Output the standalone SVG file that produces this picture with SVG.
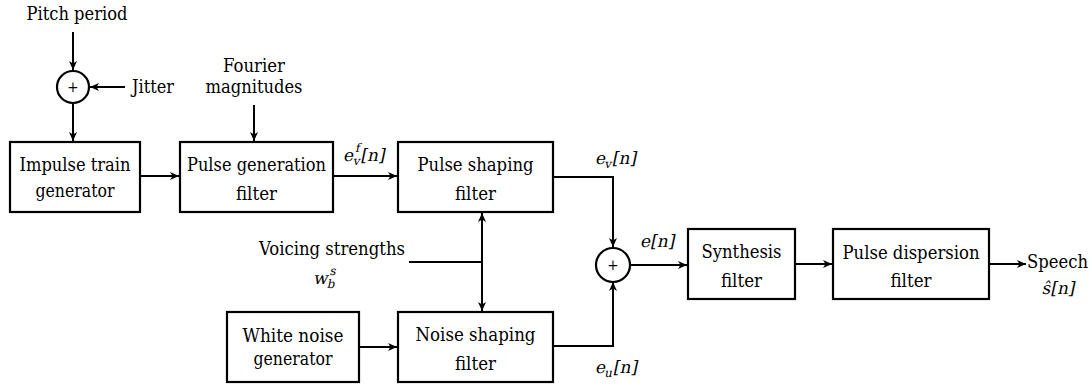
<svg xmlns="http://www.w3.org/2000/svg" width="1092" height="386" viewBox="0 0 1092 386">
<style>
text{font-family:"DejaVu Serif Condensed","DejaVu Serif",serif;font-stretch:condensed;font-size:19px;fill:#000}
.m{font-family:"DejaVu Serif",serif;font-stretch:normal;font-size:17px}
.c{text-anchor:middle}
.s{font-size:12px}
.box{fill:#fff;stroke:#000;stroke-width:2.2}
.sum{fill:#fff;stroke:#000;stroke-width:2.2}
.plus{font-size:15px;text-anchor:middle}
#connectors path{fill:none;stroke:#000;stroke-width:2}
</style>
<defs>
<marker id="arr" markerUnits="userSpaceOnUse" markerWidth="12" markerHeight="10" viewBox="-10 -5 12 10" refX="0" refY="0" orient="auto-start-reverse">
<path d="M0,0 L-9,-4 L-6.5,0 L-9,4 Z" fill="#000"/>
</marker>
</defs>
<rect width="1092" height="386" fill="#fff"/>

<g id="connectors">
<path d="M73,32 V70" marker-end="url(#arr)"/>
<path d="M125,87 H90" marker-end="url(#arr)"/>
<path d="M73,104 V141" marker-end="url(#arr)"/>
<path d="M254,105 V141" marker-end="url(#arr)"/>
<path d="M140,176 H179" marker-end="url(#arr)"/>
<path d="M333,176 H397" marker-end="url(#arr)"/>
<path d="M553,177 H613 V247" marker-end="url(#arr)"/>
<path d="M553,346 H613 V282" marker-end="url(#arr)"/>
<path d="M409,262 H482"/>
<path d="M482,213 V311" marker-start="url(#arr)" marker-end="url(#arr)"/>
<path d="M359,347 H397" marker-end="url(#arr)"/>
<path d="M630,265 H687" marker-end="url(#arr)"/>
<path d="M795,264 H832" marker-end="url(#arr)"/>
<path d="M989,264 H1026" marker-end="url(#arr)"/>
</g>

<g id="pitch-period"><text class="c" x="77" y="20" textLength="101" lengthAdjust="spacingAndGlyphs">Pitch period</text></g>
<g id="jitter"><text x="132" y="93" textLength="42" lengthAdjust="spacingAndGlyphs">Jitter</text></g>
<g id="fourier-magnitudes"><text class="c" x="254" y="72" textLength="62" lengthAdjust="spacingAndGlyphs">Fourier</text><text class="c" x="254" y="93" textLength="97" lengthAdjust="spacingAndGlyphs">magnitudes</text></g>

<g id="sum1"><circle class="sum" cx="73" cy="87" r="16"/><text class="plus" x="73" y="92">+</text></g>

<g id="impulse-train-generator"><rect class="box" x="10" y="142" width="130" height="70"/>
<text class="c" x="75" y="171" textLength="111" lengthAdjust="spacingAndGlyphs">Impulse train</text><text class="c" x="75" y="197" textLength="79" lengthAdjust="spacingAndGlyphs">generator</text></g>

<g id="pulse-generation-filter"><rect class="box" x="180" y="142" width="153" height="70"/>
<text class="c" x="256.5" y="171" textLength="139" lengthAdjust="spacingAndGlyphs">Pulse generation</text><text class="c" x="256.5" y="200" textLength="41" lengthAdjust="spacingAndGlyphs">filter</text></g>

<g id="label-evf"><text class="m" transform="translate(343,161) skewX(-12)" x="0" y="0">e<tspan class="s" dy="-9">f</tspan><tspan class="s" dx="-4" dy="13">v</tspan><tspan dy="-4">[</tspan>n]</text></g>

<g id="pulse-shaping-filter"><rect class="box" x="398" y="142" width="155" height="70"/>
<text class="c" x="475.5" y="171" textLength="116" lengthAdjust="spacingAndGlyphs">Pulse shaping</text><text class="c" x="475.5" y="200" textLength="41" lengthAdjust="spacingAndGlyphs">filter</text></g>

<g id="label-ev"><text class="m" transform="translate(595,164) skewX(-12)" x="0" y="0">e<tspan class="s" dy="4">v</tspan><tspan dy="-4">[</tspan>n]</text></g>

<g id="voicing-strengths"><text x="259" y="255" textLength="146" lengthAdjust="spacingAndGlyphs">Voicing strengths</text>
<text class="m" transform="translate(313,284) skewX(-12)" x="0" y="0">w<tspan class="s" dy="-9">s</tspan><tspan class="s" dx="-6" dy="13">b</tspan></text></g>

<g id="white-noise-generator"><rect class="box" x="227" y="312" width="132" height="70"/>
<text class="c" x="293" y="342" textLength="101" lengthAdjust="spacingAndGlyphs">White noise</text><text class="c" x="293" y="365" textLength="79" lengthAdjust="spacingAndGlyphs">generator</text></g>

<g id="noise-shaping-filter"><rect class="box" x="398" y="312" width="155" height="70"/>
<text class="c" x="475.5" y="341" textLength="120" lengthAdjust="spacingAndGlyphs">Noise shaping</text><text class="c" x="475.5" y="370" textLength="41" lengthAdjust="spacingAndGlyphs">filter</text></g>

<g id="label-eu"><text class="m" transform="translate(595,373) skewX(-12)" x="0" y="0">e<tspan class="s" dy="4">u</tspan><tspan dy="-4">[</tspan>n]</text></g>

<g id="sum2"><circle class="sum" cx="613" cy="265" r="17"/><text class="plus" x="613" y="270">+</text></g>

<g id="label-e"><text class="m" transform="translate(640,247) skewX(-12)" x="0" y="0">e[n]</text></g>

<g id="synthesis-filter"><rect class="box" x="688" y="229" width="107" height="70"/>
<text class="c" x="741.5" y="258" textLength="80" lengthAdjust="spacingAndGlyphs">Synthesis</text><text class="c" x="741.5" y="287" textLength="41" lengthAdjust="spacingAndGlyphs">filter</text></g>

<g id="pulse-dispersion-filter"><rect class="box" x="833" y="229" width="156" height="70"/>
<text class="c" x="911" y="259" textLength="137" lengthAdjust="spacingAndGlyphs">Pulse dispersion</text><text class="c" x="911" y="287" textLength="41" lengthAdjust="spacingAndGlyphs">filter</text></g>

<g id="speech"><text x="1027" y="268" textLength="61" lengthAdjust="spacingAndGlyphs">Speech</text>
<text class="c m" transform="translate(1058,294) skewX(-12)" x="0" y="0">ŝ[n]</text></g>
</svg>
